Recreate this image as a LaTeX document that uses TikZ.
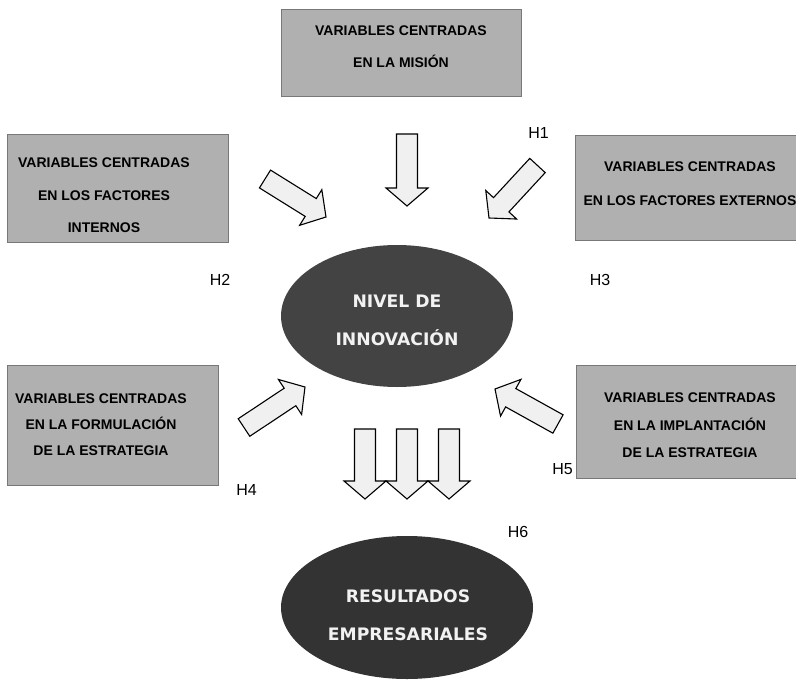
\documentclass[tikz,border=0pt]{standalone}
\usepackage{xcolor}
\usepackage{fontspec}
\setmainfont{Liberation Sans}
\newfontfamily\verdana{DejaVu Sans}
\usepackage{tikz}
\usetikzlibrary{shapes,calc,positioning}

\definecolor{grisCaja}{RGB}{176,176,176}
\definecolor{bordeCaja}{RGB}{120,120,120}
\definecolor{grisNivel}{RGB}{67,67,67}
\definecolor{grisResultado}{RGB}{51,51,51}
\definecolor{grisFlecha}{RGB}{240,240,240}
\definecolor{blancoTexto}{RGB}{242,242,242}

\begin{document}
\begin{tikzpicture}[x=1pt, y=-1pt,
    caja/.style={draw=bordeCaja, fill=grisCaja, line width=0.8pt},
    textocaja/.style={align=center, inner sep=0pt, font=\bfseries\fontsize{14}{#1}\selectfont},
    elipse/.style={ellipse, draw=none, fill=#1, inner sep=0pt},
    textoelipse/.style={align=center, inner sep=0pt, text=blancoTexto, font=\verdana\bfseries\fontsize{17.2}{38}\selectfont},
    hip/.style={inner sep=0pt, font=\fontsize{16}{16}\selectfont},
    flecha/.style={draw=black, fill=grisFlecha, line width=1.1pt, line join=miter}]
    \useasboundingbox (0,0) rectangle (796,680);

    % Boxes
    \draw[caja] (281,9) rectangle (521,96);
    \draw[caja] (7,134) rectangle (228,242);
    \draw[caja] (575,135) rectangle (805,240);
    \draw[caja] (7,365) rectangle (218,485);
    \draw[caja] (576,365) rectangle (805,478);

    \node[textocaja=32] (mision) at (401,47) {VARIABLES CENTRADAS\\EN LA MISIÓN};
    \node[textocaja=32.5] (internos) at (104,195.5) {VARIABLES CENTRADAS\\EN LOS FACTORES\\INTERNOS};
    \node[textocaja=34] (externos) at (690,184) {VARIABLES CENTRADAS\\EN LOS FACTORES EXTERNOS};
    \node[textocaja=26] (formulacion) at (101,425) {VARIABLES CENTRADAS\\EN LA FORMULACIÓN\\DE LA ESTRATEGIA};
    \node[textocaja=27.5] (implantacion) at (690,425.5) {VARIABLES CENTRADAS\\EN LA IMPLANTACIÓN\\DE LA ESTRATEGIA};

    % Ellipses
    \node[elipse=grisNivel, minimum width=232pt, minimum height=142pt] (nivel) at (397,316) {};
    \node[textoelipse] (nivel-t) at (397,320) {NIVEL DE\\INNOVACIÓN};
    \node[elipse=grisResultado, minimum width=252pt, minimum height=143pt] (resultados) at (407,607.5) {};
    \node[textoelipse] (resultados-t) at (408,615.5) {RESULTADOS\\EMPRESARIALES};

    % Hypotheses
    \node[hip] (h1) at (538.5,133) {H1};
    \node[hip] (h2) at (220,280) {H2};
    \node[hip] (h3) at (600,280) {H3};
    \node[hip] (h4) at (246.5,490) {H4};
    \node[hip] (h5) at (562.5,469) {H5};
    \node[hip] (h6) at (518,531.5) {H6};

    % Block arrows (tail / tip)
    \coordinate (m-a) at (407,134);   \coordinate (m-b) at (407,206);
    \coordinate (i-a) at (265,179);   \coordinate (i-b) at (326,217);
    \coordinate (e-a) at (537.5,165.5); \coordinate (e-b) at (489,218);
    \coordinate (f-a) at (244,427.5); \coordinate (f-b) at (305,387);
    \coordinate (p-a) at (558,424);   \coordinate (p-b) at (495,389);
    \coordinate (r1-a) at (365,429);  \coordinate (r1-b) at (365,499);
    \coordinate (r2-a) at (407,429);  \coordinate (r2-b) at (407,499);
    \coordinate (r3-a) at (449,429);  \coordinate (r3-b) at (449,499);

    \foreach \a/\b in {m-a/m-b, i-a/i-b, e-a/e-b, f-a/f-b, p-a/p-b, r1-a/r1-b, r2-a/r2-b, r3-a/r3-b} {
        \coordinate (c) at ($(\b)!18pt!(\a)$);
        \draw[flecha] ($(\a)!10.5pt!90:(\b)$) -- ($(c)!10.5pt!90:(\b)$) -- ($(c)!21pt!90:(\b)$)
            -- (\b) -- ($(c)!21pt!-90:(\b)$) -- ($(c)!10.5pt!-90:(\b)$) -- ($(\a)!10.5pt!-90:(\b)$) -- cycle;
    }
\end{tikzpicture}
\end{document}
